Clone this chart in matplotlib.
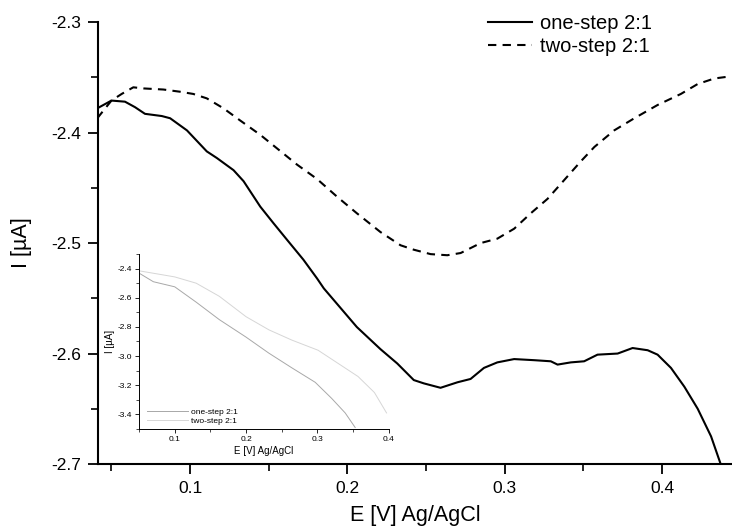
import matplotlib
matplotlib.use("Agg")
import matplotlib.pyplot as plt
from matplotlib.ticker import MultipleLocator

plt.rcParams['font.family'] = ['Liberation Sans', 'DejaVu Sans']
plt.rcParams['axes.unicode_minus'] = False

# --- main curves ---
one_x = [0.041, 0.050, 0.0586, 0.065, 0.0713, 0.082, 0.0873, 0.098, 0.1106, 0.117,
         0.1276, 0.134, 0.1446, 0.153, 0.1616, 0.172, 0.1807, 0.185, 0.1934, 0.206,
         0.221, 0.2317, 0.2422, 0.2486, 0.2592, 0.270, 0.2783, 0.2868, 0.2953, 0.306,
         0.3187, 0.3293, 0.3336, 0.342, 0.3505, 0.359, 0.3718, 0.3813, 0.3909, 0.3972,
         0.4057, 0.4142, 0.4227, 0.4312, 0.4385]
one_y = [-2.378, -2.371, -2.372, -2.377, -2.383, -2.385, -2.387, -2.398, -2.417, -2.423,
         -2.434, -2.444, -2.467, -2.482, -2.497, -2.515, -2.532, -2.541, -2.555, -2.576,
         -2.596, -2.609, -2.624, -2.627, -2.631, -2.626, -2.623, -2.613, -2.608, -2.605,
         -2.606, -2.607, -2.610, -2.608, -2.607, -2.601, -2.600, -2.595, -2.597, -2.601,
         -2.613, -2.630, -2.650, -2.675, -2.705]

two_x = [0.041, 0.050, 0.0565, 0.0639, 0.0703, 0.083, 0.0936, 0.102, 0.1106, 0.1212,
         0.1318, 0.1446, 0.155, 0.168, 0.1807, 0.1934, 0.206, 0.221, 0.2338, 0.2422,
         0.2529, 0.2635, 0.272, 0.2847, 0.2953, 0.306, 0.3166, 0.3272, 0.3378, 0.3484,
         0.357, 0.3696, 0.3824, 0.3972, 0.412, 0.4227, 0.4333, 0.444]
two_y = [-2.387, -2.371, -2.365, -2.359, -2.360, -2.361, -2.363, -2.365, -2.369, -2.378,
         -2.389, -2.402, -2.414, -2.429, -2.442, -2.458, -2.473, -2.490, -2.502, -2.506,
         -2.510, -2.511, -2.509, -2.500, -2.496, -2.487, -2.473, -2.460, -2.443, -2.426,
         -2.413, -2.398, -2.387, -2.375, -2.365, -2.356, -2.351, -2.349]

# --- inset curves ---
in_one_x = [0.051, 0.070, 0.100, 0.130, 0.1625, 0.200, 0.232, 0.264, 0.297, 0.320, 0.339, 0.353]
in_one_y = [-2.434, -2.49, -2.525, -2.63, -2.75, -2.87, -2.98, -3.08, -3.18, -3.29, -3.39, -3.49]
in_two_x = [0.051, 0.100, 0.130, 0.1625, 0.200, 0.232, 0.264, 0.301, 0.329, 0.357, 0.380, 0.397]
in_two_y = [-2.416, -2.457, -2.50, -2.59, -2.73, -2.82, -2.89, -2.96, -3.05, -3.14, -3.25, -3.39]

labels = ["one-step 2:1", "two-step 2:1"]

fig = plt.figure(figsize=(7.32, 5.27), dpi=100)
ax = fig.add_axes([0.134, 0.1195, 0.866, 0.8385])

ax.plot(one_x, one_y, color='black', lw=1.5, label=labels[0])
ax.plot(two_x, two_y, color='black', lw=1.5, dashes=(4, 3), label=labels[1])

ax.set_xlim(0.0415, 0.4445)
ax.set_ylim(-2.7, -2.3)
ax.xaxis.set_major_locator(MultipleLocator(0.1))
ax.xaxis.set_minor_locator(MultipleLocator(0.05))
ax.yaxis.set_major_locator(MultipleLocator(0.1))
ax.yaxis.set_minor_locator(MultipleLocator(0.05))
ax.spines['top'].set_visible(False)
ax.spines['right'].set_visible(False)
ax.spines['left'].set_linewidth(1.5)
ax.spines['bottom'].set_linewidth(1.5)
ax.tick_params(which='major', direction='out', length=7, width=1.3, labelsize=12.5, pad=5)
ax.tick_params(which='minor', direction='out', length=5, width=1.2)
ax.set_xlabel("E [V] Ag/AgCl", fontsize=15.5, labelpad=7)
ax.set_ylabel("I [µA]", fontsize=15.5, labelpad=14)

ax.legend(loc='upper left', bbox_to_anchor=(0.647, 1.0), bbox_transform=fig.transFigure,
          frameon=False, fontsize=14.5, handlelength=2.2, handletextpad=0.4,
          labelspacing=0.2, borderpad=0.2)

# --- inset ---
ins = fig.add_axes([0.190, 0.186, 0.341, 0.332])
ins.plot(in_one_x, in_one_y, color='#a8a8a8', lw=0.7, label=labels[0])
ins.plot(in_two_x, in_two_y, color='#d6d6d6', lw=0.7, label=labels[1])
ins.set_xlim(0.05, 0.4)
ins.set_ylim(-3.5, -2.3)
ins.xaxis.set_minor_locator(MultipleLocator(0.05))
ins.yaxis.set_minor_locator(MultipleLocator(0.1))
ins.set_yticks([-2.4, -2.6, -2.8, -3.0, -3.2, -3.4])
ins.set_xticks([0.1, 0.2, 0.3, 0.4])
ins.spines['top'].set_visible(False)
ins.spines['right'].set_visible(False)
ins.spines['left'].set_linewidth(0.7)
ins.spines['bottom'].set_linewidth(0.7)
ins.tick_params(which='major', direction='out', length=3, width=0.6, labelsize=6, pad=2)
ins.tick_params(which='minor', direction='out', length=2, width=0.5)
ins.set_xlabel("E [V] Ag/AgCl", fontsize=7, labelpad=2)
ins.set_ylabel("I [µA]", fontsize=7, labelpad=2)
ins.patch.set_alpha(0)
ins.legend(loc='lower left', bbox_to_anchor=(0.0, -0.02), frameon=False, fontsize=6,
           handlelength=5, handletextpad=0.3, labelspacing=0.1)

fig.savefig("out.png", dpi=100)
